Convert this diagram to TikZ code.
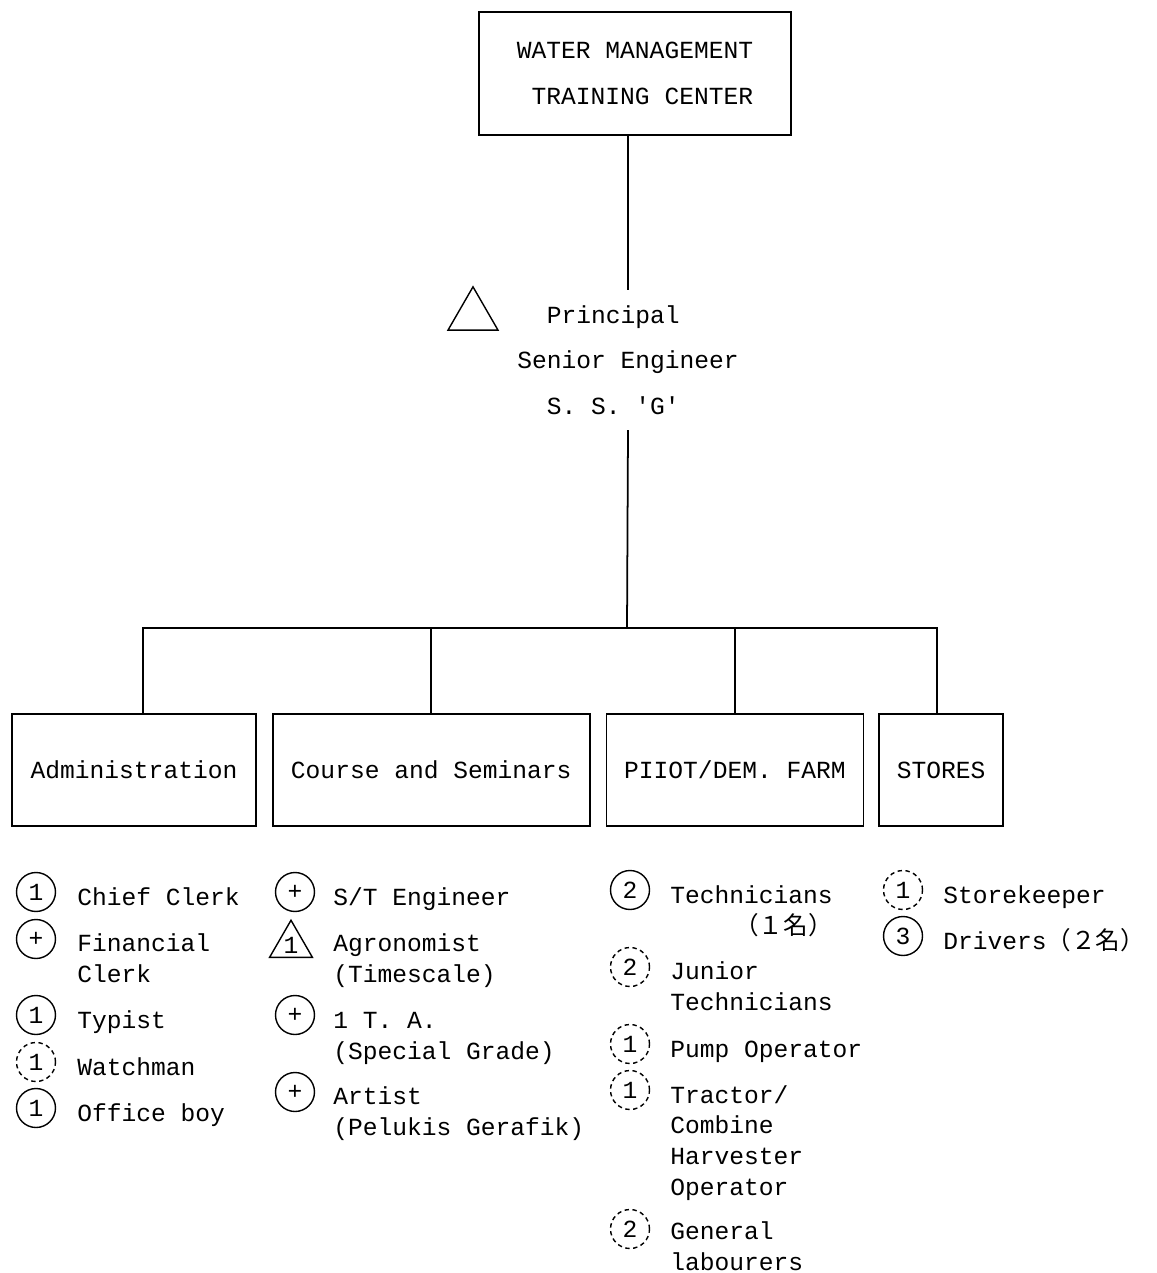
\documentclass[tikz,border=0pt]{standalone}
\usepackage{fontspec}
\setmainfont{Liberation Mono}
\newfontfamily\jpfont{Noto Sans CJK JP}
\usetikzlibrary{positioning,shapes.geometric}

\begin{document}
\begin{tikzpicture}[
  x = 0.02cm, y = -0.02cm,
  font = \fontsize{14}{17.4}\selectfont,
  block_main/.style={rectangle, draw, line width=1pt, align=left,
    minimum width = 6.24cm, minimum height = 2.46cm},
  block/.style={rectangle, draw, line width=1pt, text centered,
    minimum height = 2.24cm},
  staff/.style={anchor=base west, align=left, inner sep=0pt},
  num/.style={circle, draw, line width=0.8pt, minimum size=0.78cm, inner sep=0pt},
  num_vacant/.style={num, dash pattern=on 2.5pt off 2pt},
  grade/.style={regular polygon, regular polygon sides=3, draw, line width=0.8pt,
    inner sep=0pt},
  line/.style={draw, -, line width=1pt}
  ]

\useasboundingbox (0,0) rectangle (1156,1273);

\node [block_main] (center) at (635,73.5) {WATER MANAGEMENT\\[8.6pt]~TRAINING CENTER};
\node [align=left, inner xsep=0pt, inner ysep=0.3cm] (principal) at (628,360)
  {~~Principal\\[8.6pt]Senior Engineer\\[8.6pt]~~S. S. \textquotesingle G\textquotesingle};
\node [grade, minimum size=1.155cm] (principal_grade) at (473,315.7) {};

\node [block, minimum width=4.88cm] (admin) at (134,770) {Administration};
\node [block, minimum width=6.34cm, right=0.30cm of admin] (course) {Course and Seminars};
\node [block, minimum width=5.14cm, right=0.30cm of course] (farm) {PIIOT/DEM. FARM};
\node [block, minimum width=2.48cm, right=0.28cm of farm] (stores) {STORES};

\coordinate (bus) at (627,628);

\path [line] (principal.north |- center.south) -- (principal.north);
\path [line] (principal.south) -- (bus);
\path [line] ([xshift=0.18cm]admin.north) |- (bus) -| ([xshift=-0.08cm]stores.north);
\path [line] (course.north) -- (course.north |- bus);
\path [line] (farm.north) -- (farm.north |- bus);

% Administration (base = last line)
\node [num] (chief_clerk_n) at (36,892) {1};
\node [staff] (chief_clerk) at (77,905) {Chief Clerk};
\node [num] (fin_clerk_n) at (36,939) {+};
\node [staff] (fin_clerk) at (77,982) {Financial\\Clerk};
\node [num] (typist_n) at (36,1015) {1};
\node [staff] (typist) at (77,1028) {Typist};
\node [num_vacant] (watchman_n) at (36,1062) {1};
\node [staff] (watchman) at (77,1075) {Watchman};
\node [num] (office_boy_n) at (36,1108) {1};
\node [staff] (office_boy) at (77,1121) {Office boy};

% Course and Seminars
\node [num] (st_eng_n) at (295,892) {+};
\node [staff] (st_eng) at (333,905) {S/T Engineer};
\node [grade, minimum size=0.99cm] (agronomist_n) at (291,945) {1};
\node [staff] (agronomist) at (333,982) {Agronomist\\(Timescale)};
\node [num] (ta_n) at (295,1015) {+};
\node [staff] (ta) at (333,1059) {1 T. A.\\(Special Grade)};
\node [num] (artist_n) at (295,1092) {+};
\node [staff] (artist) at (333,1135) {Artist\\(Pelukis Gerafik)};

% Pilot farm
\node [num] (technicians_n) at (630,890) {2};
\node [staff, align=right] (technicians) at (670,934) {Technicians\\{\jpfont （１名）}};
\node [num_vacant] (jr_technicians_n) at (630,967) {2};
\node [staff] (jr_technicians) at (670,1010) {Junior\\Technicians};
\node [num_vacant] (pump_n) at (630,1044) {1};
\node [staff] (pump) at (670,1057) {Pump Operator};
\node [num_vacant] (tractor_n) at (630,1090) {1};
\node [staff] (tractor) at (670,1195) {Tractor/\\Combine\\Harvester\\Operator};
\node [num_vacant] (labourers_n) at (630,1229) {2};
\node [staff] (labourers) at (670,1270) {General\\labourers};

% Stores
\node [num_vacant] (storekeeper_n) at (903,890) {1};
\node [staff] (storekeeper) at (943,903) {Storekeeper};
\node [num] (drivers_n) at (903,936) {3};
\node [staff] (drivers) at (943,949) {Drivers{\jpfont （２名）}};
\end{tikzpicture}
\end{document}
